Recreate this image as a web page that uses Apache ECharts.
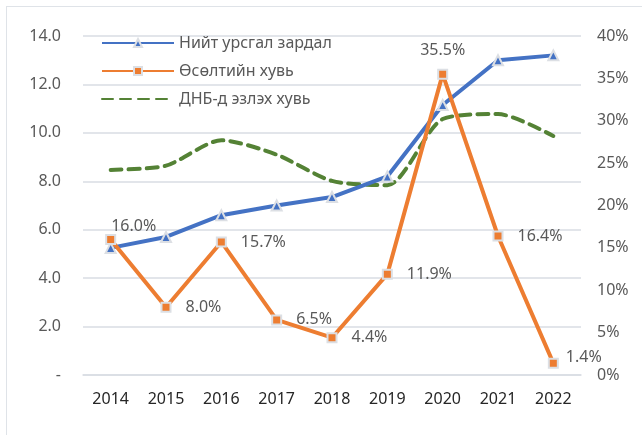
<!DOCTYPE html>
<html>
<head>
<meta charset="utf-8">
<script src="https://cdn.jsdelivr.net/npm/echarts@6/dist/echarts.min.js"></script>
<style>
  html, body { margin: 0; padding: 0; background: #fff; overflow: hidden; }
  #frame { position: absolute; left: 6px; top: 6px; width: 700px; height: 500px; border: 1px solid #dfe3e8; }
  #chart { position: absolute; left: 0; top: 0; width: 642px; height: 435px; }
</style>
</head>
<body>
<div id="frame"></div>
<div id="chart"></div>
<script>
  // он
  const years = ['2014', '2015', '2016', '2017', '2018', '2019', '2020', '2021', '2022'];
  // Нийт урсгал зардал (зүүн тэнхлэг)
  const totalCost = [5.25, 5.7, 6.6, 7.0, 7.35, 8.2, 11.15, 13.0, 13.2];
  // Өсөлтийн хувь (%)
  const growthPct = [16.0, 8.0, 15.7, 6.5, 4.4, 11.9, 35.5, 16.4, 1.4];
  // ДНБ-д эзлэх хувь (%)
  const gdpSharePct = [24.2, 24.7, 27.7, 26.0, 22.9, 22.4, 30.2, 30.8, 28.2];

  const font = 'Noto Sans';
  const gray = '#595959';

  let myChart = echarts.init(document.getElementById('chart'));
  let option = {
    animation: false,
    textStyle: { fontFamily: font },
    grid: { left: 83, right: 61, top: 36, bottom: 60 },
    legend: {
      orient: 'vertical',
      left: 96,
      top: 30,
      itemWidth: 72,
      itemHeight: 10,
      itemGap: 12,
      textStyle: { fontFamily: font, fontSize: 16, color: gray },
      data: [
        'Нийт урсгал зардал',
        'Өсөлтийн хувь',
        { name: 'ДНБ-д эзлэх хувь', itemStyle: { opacity: 0 } }
      ]
    },
    xAxis: {
      type: 'category',
      data: years,
      boundaryGap: true,
      axisLine: { lineStyle: { color: '#d9dde3', width: 1.5 } },
      axisTick: { show: false },
      axisLabel: { fontFamily: font, fontSize: 16, color: '#262626', margin: 16 }
    },
    yAxis: [{
      type: 'value',
      min: 0,
      max: 14,
      interval: 2,
      axisLine: { show: false },
      axisTick: { show: false },
      splitLine: { lineStyle: { color: '#d9dde3', width: 1.5 } },
      axisLabel: {
        fontFamily: font, fontSize: 16, color: gray, margin: 22,
        formatter: v => v === 0 ? '-' : v.toFixed(1)
      }
    }, {
      type: 'value',
      min: 0,
      max: 40,
      interval: 5,
      axisLine: { show: false },
      axisTick: { show: false },
      splitLine: { show: false },
      axisLabel: { fontFamily: font, fontSize: 16, color: gray, margin: 16, formatter: '{value}%' }
    }],
    series: [{
      name: 'Нийт урсгал зардал',
      type: 'line',
      data: totalCost,
      z: 3,
      symbol: 'triangle',
      symbolSize: 10,
      itemStyle: { color: '#4472C4', borderColor: '#dcdfe4', borderWidth: 2 },
      lineStyle: { color: '#4472C4', width: 4 }
    }, {
      name: 'Өсөлтийн хувь',
      type: 'line',
      yAxisIndex: 1,
      z: 4,
      data: growthPct.map((v, i) => {
        if (i === 6) return { value: v, label: { position: 'top', distance: 10 } };
        if (i === 0) return { value: v, label: { position: 'top', distance: 2, offset: [23, 3] } };
        if (i === 8) return { value: v, label: { distance: 7, offset: [0, -6] } };
        return v;
      }),
      symbol: 'rect',
      symbolSize: 9,
      itemStyle: { color: '#ED7D31', borderColor: '#dcdfe4', borderWidth: 2 },
      lineStyle: { color: '#ED7D31', width: 4 },
      label: {
        show: true,
        position: 'right',
        distance: 14,
        fontFamily: font,
        fontSize: 16,
        color: gray,
        formatter: p => p.value.toFixed(1) + '%'
      }
    }, {
      name: 'ДНБ-д эзлэх хувь',
      type: 'line',
      yAxisIndex: 1,
      z: 2,
      data: gdpSharePct,
      smooth: 0.25,
      symbol: 'none',
      itemStyle: { color: '#548235' },
      lineStyle: { color: '#548235', width: 4, type: [11, 7], cap: 'round' }
    }]
  };
  myChart.setOption(option);
</script>
</body>
</html>
